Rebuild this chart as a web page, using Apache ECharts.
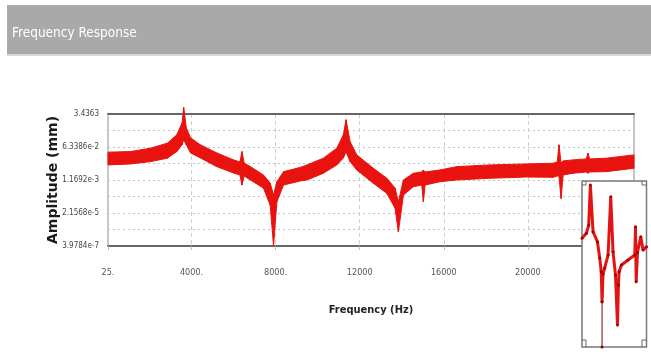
<!DOCTYPE html>
<html>
<head>
<meta charset="utf-8">
<script src="https://cdn.jsdelivr.net/npm/echarts@6/dist/echarts.min.js"></script>
<style>
  html, body { margin: 0; padding: 0; background: #fff; }
  #main { width: 651px; height: 354px; }
</style>
</head>
<body>
<div id="main"></div>
<script>
const NARROW = "'Liberation Sans Narrow', 'DejaVu Sans Condensed', 'Liberation Sans', sans-serif"

// frequency (Hz) of the traced points
const freq = [25, 1100, 2050, 2850, 3300, 3550, 3625, 3750, 3950, 4420,
  5200, 6000, 6300, 6400, 6500, 6800, 7420, 7740, 7900, 8060,
  8375, 9170, 9490, 10270, 10910, 11225, 11350, 11540, 11860, 12650,
  13290, 13680, 13840, 14080, 14550, 14950, 15030, 15110, 15820, 16610,
  18190, 19940, 21200, 21400, 21480, 21580, 21680, 22150, 22780, 22860,
  22940, 23730, 25050]

// upper edge of the response band (mm)
const ampUpper = [0.0339, 0.0365, 0.0551, 0.101, 0.278, 1.19, 7.67, 0.650, 0.193, 0.0823,
  0.0311, 0.0133, 0.01043, 0.0365, 0.00923, 0.00589, 0.00215, 0.000812, 0.000189, 0.000951,
  0.00321, 0.00534, 0.00724, 0.0164, 0.0551, 0.278, 1.72, 0.123, 0.0244, 0.00485,
  0.00144, 0.000442, 8.37e-5, 0.00117, 0.00264, 0.00309, 0.00394, 0.00309, 0.00394, 0.00589,
  0.00724, 0.00818, 0.00890, 0.01043, 0.0823, 0.00923, 0.01178, 0.0133, 0.0150, 0.0300,
  0.0150, 0.0164, 0.0244]

// lower edge of the response band (mm)
const ampLower = [0.00724, 0.00818, 0.01082, 0.0164, 0.0365, 0.0823, 0.151, 0.0823, 0.0311, 0.0170,
  0.00589, 0.00274, 0.00215, 0.000637, 0.00190, 0.00117, 0.000442, 5.60e-5, 4.08e-7, 8.37e-5,
  0.000637, 0.001035, 0.00117, 0.00264, 0.00724, 0.0170, 0.0352, 0.01082, 0.00394, 0.000783,
  0.000232, 3.89e-5, 2.18e-6, 0.000189, 0.000518, 0.000637, 8.37e-5, 0.000637, 0.000951, 0.00117,
  0.00144, 0.00168, 0.00162, 0.00190, 0.00190, 0.000126, 0.00215, 0.00264, 0.00309, 0.00264,
  0.00309, 0.00321, 0.00485]

// axis ticks
const xTickValues = [25, 4000, 8000, 12000, 16000, 20000]
const xTickLabels = ['25.', '4000.', '8000.', '12000', '16000', '20000']
const yTickLabels = ['3.9784e-7', '2.1568e-5', '1.1692e-3', '6.3386e-2', '3.4363']
const yMin = 3.9784e-7
const yMax = 3.4363
const xMax = 25050

// zoomed inset (relative position 0-100 in both directions)
const insetX = [0, 6.8, 10.4, 13.0, 17.1, 23.9, 27.5, 29.8, 31.1, 32.6,
  35.2, 40.4, 44.6, 48.1, 51.9, 55.0, 56.5, 57.5, 61.2, 71.4,
  81.8, 83.0, 84.0, 86.0, 91.1, 94.7, 100]
const insetY = [65.5, 68.5, 73.5, 97.6, 69.5, 63.4, 53.6, 45.4, 27.3, 44.0,
  47.6, 55.4, 90.5, 57.4, 43.4, 13.3, 37.3, 45.4, 49.4, 52.4,
  55.4, 72.5, 39.3, 57.0, 66.4, 58.4, 60.4]
const insetDropX = [31.1, 31.1]
const insetDropY = [27.3, 0]

// log amplitude -> grid step units (8 steps between yMin and yMax)
const LMIN = Math.log10(yMin)
const STEP = (Math.log10(yMax) - LMIN) / 8
const toK = a => (Math.log10(a) - LMIN) / STEP

const bandData = freq.map((f, i) => [f, toK(ampLower[i]), toK(ampUpper[i])])

const RED = '#e8130f'

// one quad between point i and i+1 of the envelope
function renderBand(params, api) {
  const i = params.dataIndex
  if (i >= bandData.length - 1) return null
  const a = bandData[i]
  const b = bandData[i + 1]
  const pts = [
    api.coord([a[0], a[2]]),
    api.coord([b[0], b[2]]),
    api.coord([b[0], b[1]]),
    api.coord([a[0], a[1]])
  ]
  return {
    type: 'polygon',
    shape: { points: pts },
    style: { fill: RED, stroke: RED, lineWidth: 1 }
  }
}

const chart = echarts.init(document.getElementById('main'), null, { renderer: 'canvas' })

const option = {
  backgroundColor: '#fff',
  animation: false,
  title: {
    text: 'Frequency Response',
    left: 12,
    top: 26,
    padding: 0,
    textStyle: { color: '#fff', fontSize: 13.5, fontWeight: 'normal', fontFamily: NARROW }
  },
  graphic: [
    { type: 'rect', z: -10, shape: { x: 7, y: 5, width: 644, height: 49 }, style: { fill: '#a9a9a9' } },
    { type: 'rect', z: -10, shape: { x: 7, y: 54, width: 644, height: 2 }, style: { fill: '#d9d9d9' } },
    // corner marks of the inset
    { type: 'polyline', z: 100, shape: { points: [[582, 185], [586, 185], [586, 181]] }, style: { stroke: '#666', fill: null, lineWidth: 1 } },
    { type: 'polyline', z: 100, shape: { points: [[646.5, 185], [642, 185], [642, 181]] }, style: { stroke: '#666', fill: null, lineWidth: 1 } },
    { type: 'polyline', z: 100, shape: { points: [[582, 340], [586, 340], [586, 347]] }, style: { stroke: '#666', fill: null, lineWidth: 1 } },
    { type: 'polyline', z: 100, shape: { points: [[646.5, 340], [642, 340], [642, 347]] }, style: { stroke: '#666', fill: null, lineWidth: 1 } }
  ],
  grid: [
    { left: 108, top: 114, width: 526, height: 132, show: true, borderColor: '#8c8c8c', borderWidth: 1 },
    { left: 582, top: 181, width: 64.5, height: 166, show: true, backgroundColor: '#fff', borderColor: '#7a7a7a', borderWidth: 1.5, z: 10 }
  ],
  xAxis: [
    {
      type: 'value',
      gridIndex: 0,
      min: 25,
      max: xMax,
      name: 'Frequency (Hz)',
      nameLocation: 'middle',
      nameGap: 59,
      nameMoveOverlap: false,
      nameTextStyle: { fontSize: 11, fontWeight: 'bold', color: '#222', fontFamily: NARROW },
      axisLine: { show: true, lineStyle: { color: '#666', width: 2 } },
      axisTick: { show: true, length: 4, customValues: xTickValues, lineStyle: { color: '#bbb' } },
      axisLabel: {
        customValues: xTickValues,
        margin: 22,
        fontSize: 9,
        color: '#555',
        fontFamily: NARROW,
        formatter: v => xTickLabels[xTickValues.indexOf(v)]
      },
      splitLine: { show: true, lineStyle: { color: '#cfcfcf', type: [4, 3] } }
    },
    {
      type: 'value',
      gridIndex: 0,
      position: 'top',
      min: 25,
      max: xMax,
      axisLine: { show: true, lineStyle: { color: '#666', width: 2 } },
      axisTick: { show: false },
      axisLabel: { show: false },
      splitLine: { show: false }
    },
    { type: 'value', gridIndex: 1, min: 0, max: 100, show: false }
  ],
  yAxis: [
    {
      type: 'value',
      gridIndex: 0,
      min: 0,
      max: 8,
      interval: 1,
      name: 'Amplitude (mm)',
      nameLocation: 'middle',
      nameGap: 48,
      nameMoveOverlap: false,
      nameTextStyle: { fontSize: 14, fontWeight: 'bold', color: '#1a1a1a', fontFamily: 'DejaVu Sans' },
      axisLine: { show: false },
      axisTick: { show: false },
      axisLabel: {
        margin: 9,
        fontSize: 8,
        color: '#444',
        fontFamily: NARROW,
        formatter: v => (v % 2 === 0 ? yTickLabels[v / 2] : '')
      },
      splitLine: { show: true, lineStyle: { color: '#b9c6cc', type: [2, 3] } }
    },
    { type: 'value', gridIndex: 1, min: 0, max: 100, show: false }
  ],
  series: [
    {
      name: 'response',
      type: 'custom',
      xAxisIndex: 0,
      yAxisIndex: 0,
      data: bandData,
      encode: { x: 0, y: [1, 2] },
      renderItem: renderBand,
      z: 3
    },
    {
      name: 'inset',
      type: 'line',
      xAxisIndex: 2,
      yAxisIndex: 1,
      data: insetX.map((x, i) => [x, insetY[i]]),
      symbol: 'circle',
      symbolSize: 3,
      showAllSymbol: true,
      lineStyle: { color: '#e31414', width: 3 },
      itemStyle: { color: '#a40000' },
      z: 20
    },
    {
      name: 'insetDrop',
      type: 'line',
      xAxisIndex: 2,
      yAxisIndex: 1,
      data: insetDropX.map((x, i) => [x, insetDropY[i]]),
      symbol: 'circle',
      symbolSize: 3,
      lineStyle: { color: '#8a0000', width: 1 },
      itemStyle: { color: '#8a0000' },
      z: 19
    }
  ]
}

option && chart.setOption(option)
</script>
</body>
</html>
